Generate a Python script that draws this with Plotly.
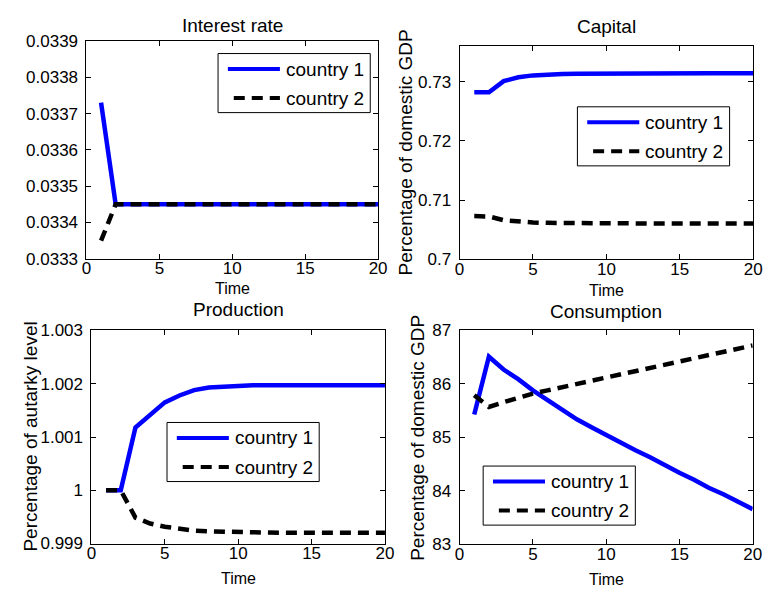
import plotly.graph_objects as go

# ---------------------------------------------------------------- data
time = list(range(1, 21))

interest_c1 = [0.03373] + [0.03345] * 19
interest_c2 = [0.03335] + [0.03345] * 19

capital_c1 = [0.72822, 0.72822, 0.73011, 0.73076, 0.73108, 0.73124, 0.73130,
              0.73135, 0.73138, 0.73140, 0.73142, 0.73143, 0.73144, 0.73145,
              0.73145, 0.73146, 0.73146, 0.73146, 0.73146, 0.73146]
capital_c2 = [0.70730, 0.70724, 0.70660, 0.70632, 0.70622, 0.70616, 0.70612,
              0.70610, 0.70608, 0.70607, 0.70606, 0.70606, 0.70605, 0.70605,
              0.70605, 0.70605, 0.70605, 0.70605, 0.70605, 0.70605]

production_c1 = [1.0, 1.0, 1.00118, 1.00142, 1.00165, 1.00178, 1.00188,
                 1.00193, 1.00195, 1.00196, 1.00197, 1.00197, 1.00197,
                 1.00197, 1.00197, 1.00197, 1.00197, 1.00197, 1.00197, 1.00197]
production_c2 = [1.0, 1.0, 0.999485, 0.999376, 0.999315, 0.999273, 0.999242,
                 0.999230, 0.999220, 0.999212, 0.999208, 0.999205, 0.999203,
                 0.999202, 0.999201, 0.999200, 0.999200, 0.999200, 0.999200,
                 0.999200]

consumption_c1 = [85.43, 86.51, 86.27, 86.09, 85.88, 85.70, 85.50, 85.34,
                  85.19, 85.04, 84.90, 84.76, 84.63, 84.48, 84.34, 84.21,
                  84.06, 83.94, 83.80, 83.66]
consumption_c2 = [85.79, 85.57, 85.66, 85.75, 85.82, 85.88, 85.94, 86.00,
                  86.06, 86.12, 86.17, 86.23, 86.29, 86.35, 86.41, 86.47,
                  86.53, 86.59, 86.66, 86.72]

series_names = ["country 1", "country 2"]
panel_titles = ["Interest rate", "Capital", "Production", "Consumption"]
y_titles = [None, "Percentage of domestic GDP", "Percentage of autarky level",
            "Percentage of domestic GDP"]
x_title = "Time"

x_ticks = [0, 5, 10, 15, 20]
x_ticktext = ["0", "5", "10", "15", "20"]

interest_ticks = [0.0333, 0.0334, 0.0335, 0.0336, 0.0337, 0.0338, 0.0339]
interest_ticktext = ["0.0333", "0.0334", "0.0335", "0.0336", "0.0337",
                     "0.0338", "0.0339"]
capital_ticks = [0.70, 0.71, 0.72, 0.73]
capital_ticktext = ["0.7", "0.71", "0.72", "0.73"]
production_ticks = [0.999, 1.0, 1.001, 1.002, 1.003]
production_ticktext = ["0.999", "1", "1.001", "1.002", "1.003"]
consumption_ticks = [83, 84, 85, 86, 87]
consumption_ticktext = ["83", "84", "85", "86", "87"]

# ---------------------------------------------------------------- layout
W, H = 771, 600
FONT = "Liberation Sans, Arial, Helvetica, sans-serif"
BLUE = "#0000ff"
BLACK = "#000000"
DASH = "11px,7px"


def fx(px):
    return px / W


def fy(px):
    return 1 - px / H


# axes boxes in pixels: left, right, top, bottom
boxes = [
    (83, 380, 33, 258),
    (463, 762, 38.5, 258.5),
    (88, 387, 332, 552),
    (463, 761.5, 332, 553),
]
y_ranges = [[0.0333, 0.0339], [0.70, 0.736], [0.999, 1.003], [83, 87]]
y_tickvals = [interest_ticks, capital_ticks, production_ticks, consumption_ticks]
y_ticktexts = [interest_ticktext, capital_ticktext, production_ticktext,
               consumption_ticktext]
series = [
    (interest_c1, interest_c2),
    (capital_c1, capital_c2),
    (production_c1, production_c2),
    (consumption_c1, consumption_c2),
]
# legend box (left, top) in pixels
legend_pos = [(217, 46), (583, 101), (165, 427), (487, 472)]
# title centre y, "Time" centre y, y-label centre x
title_y = [17, 18, 310, 312]
time_y = [289, 291, 588, 589]
ylab_x = [None, 408, 25, 420]

fig = go.Figure()
layout = dict(
    width=W, height=H,
    margin=dict(l=0, r=0, t=0, b=0),
    paper_bgcolor="white", plot_bgcolor="white",
    font=dict(family=FONT, color=BLACK),
    showlegend=False,
)
shapes, annotations = [], []

for i, (box, (s1, s2)) in enumerate(zip(boxes, series)):
    n = "" if i == 0 else str(i + 1)
    left, right, top, bottom = box
    axis_common = dict(
        showline=True, linecolor=BLACK, linewidth=1, mirror="ticks",
        ticks="inside", ticklen=5, tickcolor=BLACK, tickwidth=1,
        showgrid=False, zeroline=False,
        tickfont=dict(family=FONT, size=17, color=BLACK),
    )
    layout["xaxis" + n] = dict(
        axis_common, domain=[fx(left), fx(right)], anchor="y" + n,
        range=[0, 20], tickvals=x_ticks, ticktext=x_ticktext,
        ticklabelstandoff=-6,
    )
    layout["yaxis" + n] = dict(
        axis_common, domain=[fy(bottom), fy(top)], anchor="x" + n,
        range=y_ranges[i], tickvals=y_tickvals[i], ticktext=y_ticktexts[i],
        ticklabelstandoff=4,
    )

    fig.add_trace(go.Scatter(
        x=time, y=s1, mode="lines", name=series_names[0],
        line=dict(color=BLUE, width=4.5),
        xaxis="x" + n, yaxis="y" + n,
    ))
    fig.add_trace(go.Scatter(
        x=time, y=s2, mode="lines", name=series_names[1],
        line=dict(color=BLACK, width=4.5, dash=DASH),
        xaxis="x" + n, yaxis="y" + n,
    ))

    cx = (left + right) / 2
    annotations.append(dict(
        text=panel_titles[i], xref="paper", yref="paper",
        x=fx(cx), y=fy(title_y[i]), xanchor="center", yanchor="middle",
        showarrow=False, font=dict(size=19, family=FONT, color=BLACK),
    ))
    annotations.append(dict(
        text=x_title, xref="paper", yref="paper",
        x=fx(cx), y=fy(time_y[i]), xanchor="center", yanchor="middle",
        showarrow=False, font=dict(size=16, family=FONT, color=BLACK),
    ))
    if y_titles[i]:
        annotations.append(dict(
            text=y_titles[i], xref="paper", yref="paper", textangle=-90,
            x=fx(ylab_x[i]), y=fy((top + bottom) / 2),
            xanchor="center", yanchor="middle",
            showarrow=False, font=dict(size=19, family=FONT, color=BLACK),
        ))

    # legend box with line samples
    lx, ly = legend_pos[i]
    shapes.append(dict(
        type="rect", xref="paper", yref="paper",
        x0=fx(lx), x1=fx(lx + 155), y0=fy(ly), y1=fy(ly + 61),
        line=dict(color=BLACK, width=1), fillcolor="white", layer="above",
    ))
    rows = [ly + 16, ly + 46]
    shapes.append(dict(
        type="line", xref="paper", yref="paper",
        x0=fx(lx + 10), x1=fx(lx + 63), y0=fy(rows[0]), y1=fy(rows[0]),
        line=dict(color=BLUE, width=4), layer="above",
    ))
    shapes.append(dict(
        type="line", xref="paper", yref="paper",
        x0=fx(lx + 16), x1=fx(lx + 63), y0=fy(rows[1]), y1=fy(rows[1]),
        line=dict(color=BLACK, width=4, dash=DASH), layer="above",
    ))
    for r, name in zip(rows, series_names):
        annotations.append(dict(
            text=name, xref="paper", yref="paper",
            x=fx(lx + 67), y=fy(r), xanchor="left", yanchor="middle",
            showarrow=False, font=dict(size=19, family=FONT, color=BLACK),
        ))

layout["shapes"] = shapes
layout["annotations"] = annotations
fig.update_layout(**layout)
fig.write_html("out.html")
